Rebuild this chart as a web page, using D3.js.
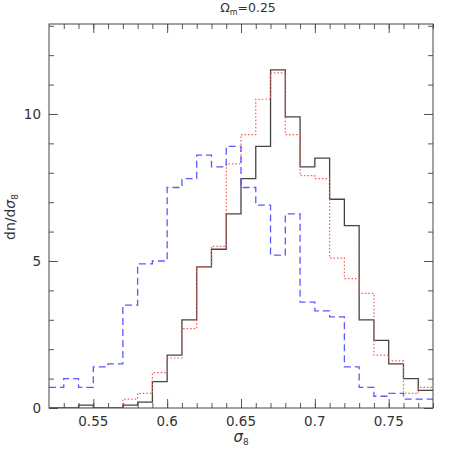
<!DOCTYPE html>
<html>
<head>
<meta charset="utf-8">
<script src="https://cdn.jsdelivr.net/npm/d3@7"></script>
<style>
  html, body { margin: 0; padding: 0; background: #fff; }
  svg text { font-family: "DejaVu Sans", sans-serif; fill: #333; }
</style>
</head>
<body>
<svg id="chart" width="457" height="457"></svg>
<script>
// Bin left edges (sigma_8), bin width 0.01
const binStarts = [0.52,0.53,0.54,0.55,0.56,0.57,0.58,0.59,0.60,0.61,0.62,0.63,0.64,
                   0.65,0.66,0.67,0.68,0.69,0.70,0.71,0.72,0.73,0.74,0.75,0.76,0.77];
const binWidth = 0.01;
// Series values (dn/dsigma_8)
const solidBlack = [0,0,0.1,0,0,0.1,0.2,0.9,1.8,3.0,4.8,5.4,6.6,
                    7.8,8.9,11.5,9.9,8.2,8.5,7.1,6.2,3.0,2.3,1.5,1.0,0.6];
const dottedRed  = [0,0,0,0,0,0.3,0.5,1.2,1.7,2.7,4.8,5.5,8.3,
                    9.3,10.5,11.4,9.3,7.9,7.8,5.1,4.4,3.9,1.8,1.6,0.5,0.7];
const dashedBlue = [0.7,1.0,0.7,1.4,1.5,3.5,4.9,5.0,7.5,7.8,8.6,8.2,8.9,
                    7.5,6.9,5.2,6.6,3.6,3.3,3.1,1.4,0.7,0.4,0.5,0.3,0.3];
const xTickLabels = [0.55, 0.60, 0.65, 0.70, 0.75];
const yTickLabels = [0, 5, 10];

const svg = d3.select("#chart");
const m = {left: 49, right: 433, top: 24, bottom: 408};
const x = d3.scaleLinear().domain([0.52, 0.78]).range([m.left, m.right]);
const y = d3.scaleLinear().domain([0, 13.06]).range([m.bottom, m.top]);

const g = svg.append("g");

svg.append("defs").append("clipPath").attr("id", "clip")
  .append("rect").attr("x", m.left).attr("y", m.top)
  .attr("width", m.right - m.left).attr("height", m.bottom - m.top);

function stepData(vals) {
  const pts = binStarts.map((b, i) => [b, vals[i]]);
  pts.push([binStarts[binStarts.length - 1] + binWidth, vals[vals.length - 1]]);
  return pts;
}
const line = d3.line().x(d => x(d[0])).y(d => y(d[1])).curve(d3.curveStepAfter);
const hist = g.append("g").attr("clip-path", "url(#clip)");
hist.append("path").datum(stepData(solidBlack)).attr("d", line)
  .attr("fill", "none").attr("stroke", "#444").attr("stroke-width", 1.3);
hist.append("path").datum(stepData(dottedRed)).attr("d", line)
  .attr("fill", "none").attr("stroke", "#f55").attr("stroke-width", 1.2)
  .attr("stroke-dasharray", "1.5,2");
hist.append("path").datum(stepData(dashedBlue)).attr("d", line)
  .attr("fill", "none").attr("stroke", "#5a5aff").attr("stroke-width", 1.3)
  .attr("stroke-dasharray", "7,4");

const xMinor = d3.range(0.53, 0.7801, 0.01);
const yMinor = d3.range(1, 13.01, 1);
function axisTicks(axisGen, transform) {
  const a = g.append("g").attr("transform", transform).call(axisGen);
  a.select(".domain").remove();
  a.selectAll("line").attr("stroke", "#555").attr("stroke-width", 1);
  return a;
}
axisTicks(d3.axisTop(x).tickValues(xMinor).tickSize(5).tickFormat(""), `translate(0,${m.bottom})`);
axisTicks(d3.axisTop(x).tickValues(xTickLabels).tickSize(9).tickFormat(""), `translate(0,${m.bottom})`);
axisTicks(d3.axisBottom(x).tickValues(xMinor).tickSize(5).tickFormat(""), `translate(0,${m.top})`);
axisTicks(d3.axisBottom(x).tickValues(xTickLabels).tickSize(9).tickFormat(""), `translate(0,${m.top})`);
axisTicks(d3.axisRight(y).tickValues(yMinor).tickSize(5).tickFormat(""), `translate(${m.left},0)`);
axisTicks(d3.axisRight(y).tickValues(yTickLabels).tickSize(9).tickFormat(""), `translate(${m.left},0)`);
axisTicks(d3.axisLeft(y).tickValues(yMinor).tickSize(5).tickFormat(""), `translate(${m.right},0)`);
axisTicks(d3.axisLeft(y).tickValues(yTickLabels).tickSize(9).tickFormat(""), `translate(${m.right},0)`);

g.append("rect").attr("x", m.left).attr("y", m.top)
  .attr("width", m.right - m.left).attr("height", m.bottom - m.top)
  .attr("fill", "none").attr("stroke", "#444").attr("stroke-width", 1);

const fmtX = d => (d === 0.6 ? "0.6" : d === 0.7 ? "0.7" : String(d));
g.selectAll(".xl").data(xTickLabels).enter().append("text")
  .attr("x", d => x(d)).attr("y", 426).attr("text-anchor", "middle")
  .attr("font-size", 13.5).text(fmtX);
g.selectAll(".yl").data(yTickLabels).enter().append("text")
  .attr("x", 41).attr("y", d => y(d) + 5).attr("text-anchor", "end")
  .attr("font-size", 13.5).text(d => d);

const xt = g.append("text").attr("x", 241).attr("y", 442).attr("text-anchor", "middle")
  .attr("font-size", 15);
xt.append("tspan").attr("font-style", "oblique").text("σ");
xt.append("tspan").attr("font-size", 9).attr("dy", 3).text("8");

const yt = g.append("text").attr("transform", "translate(15,217) rotate(-90)")
  .attr("text-anchor", "middle").attr("font-size", 14);
yt.append("tspan").text("dn/d");
yt.append("tspan").attr("font-style", "oblique").text("σ");
yt.append("tspan").attr("font-size", 9).attr("dy", 3).text("8");

const tt = g.append("text").attr("x", 248).attr("y", 12).attr("text-anchor", "middle")
  .attr("font-size", 12.5);
tt.append("tspan").text("Ω");
tt.append("tspan").attr("font-size", 8).attr("dy", 3).text("m");
tt.append("tspan").attr("dy", -3).text("=0.25");
</script>
</body>
</html>
